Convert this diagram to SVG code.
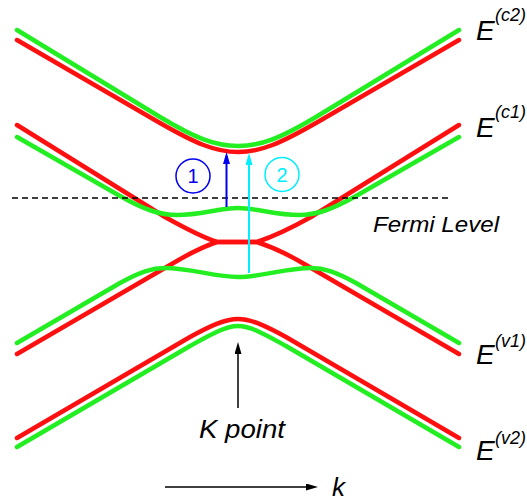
<svg xmlns="http://www.w3.org/2000/svg" width="527" height="502" viewBox="0 0 527 502">
<style>
.band{fill:none;stroke-width:4.5;stroke-linecap:round;stroke-linejoin:round}
.r{stroke:#ff1010}
.g{stroke:#22ee22}
.lbl{font-family:"Liberation Sans",Arial,sans-serif;font-style:italic;fill:#000}
.num{font-family:"Liberation Sans",Arial,sans-serif}
</style>
<defs>
<marker id="hk" viewBox="0 0 12 7" refX="8" refY="3.5" markerWidth="12" markerHeight="7" markerUnits="userSpaceOnUse" orient="auto"><path d="M0,0 L12,3.5 L0,7 z" fill="#000"/></marker>
<marker id="hb" viewBox="0 0 12 7" refX="8" refY="3.5" markerWidth="12" markerHeight="7" markerUnits="userSpaceOnUse" orient="auto"><path d="M0,0 L12,3.5 L0,7 z" fill="#0000ee"/></marker>
<marker id="hc" viewBox="0 0 12 7" refX="8" refY="3.5" markerWidth="12" markerHeight="7" markerUnits="userSpaceOnUse" orient="auto"><path d="M0,0 L12,3.5 L0,7 z" fill="#00eeff"/></marker>
</defs>
<rect width="527" height="502" fill="#fff"/>
<g id="band-c2">
<path class="band r" d="M17,40 L160,123 C195,143 215,152 238,152 C261,152 281,143 316,123 L459,40"/>
<path class="band g" d="M17,30 L160,117 C195,138 215,146 238,146 C261,146 281,138 316,117 L459,30"/>
</g>
<g id="band-c1-v1">
<path class="band r" d="M17,125 L165,217 C190,231 205,238 217,242 L257,242 C269,238 286,231 311,217 L459,125"/>
<path class="band r" d="M17,354 L170,265 C190,253 205,246 217,242 L257,242 C269,246 286,253 306,265 L459,354"/>
<path class="band g" d="M17,137 L120,196 C145,210 160,215 177,215 C200,215 220,208 238,208 C256,208 276,215 299,215 C316,215 331,210 356,196 L459,137"/>
<path class="band g" d="M17,343 L120,283 C140,272 152,268 165,268 C190,268 215,277 238,277 C261,277 286,268 311,268 C324,268 336,272 356,283 L459,343"/>
</g>
<g id="band-v2">
<path class="band r" d="M17,438 L190,337 C210,326 225,319 238,319 C251,319 266,326 286,337 L459,438"/>
<path class="band g" d="M17,447 L190,346 C210,335 225,326 238,326 C251,326 266,335 286,346 L459,447"/>
</g>
<g id="fermi">
<line x1="12" y1="198" x2="451" y2="198" stroke="#000" stroke-width="1.5" stroke-dasharray="6,4"/>
<text class="lbl" x="373" y="232" font-size="22" textLength="126" lengthAdjust="spacingAndGlyphs">Fermi Level</text>
</g>
<g id="connectors">
<line x1="226.5" y1="207" x2="226.5" y2="156" stroke="#0000ee" stroke-width="2" marker-end="url(#hb)"/>
<line x1="249" y1="273" x2="249" y2="157" stroke="#00eeff" stroke-width="2" marker-end="url(#hc)"/>
<line x1="238" y1="408" x2="238" y2="346" stroke="#000" stroke-width="1.5" marker-end="url(#hk)"/>
<line x1="165" y1="487" x2="314" y2="487" stroke="#000" stroke-width="1.5" marker-end="url(#hk)"/>
</g>
<g id="label-1">
<circle cx="193" cy="176" r="17" fill="none" stroke="#0000ee" stroke-width="1.5"/>
<text class="num" x="193" y="183" font-size="20" fill="#0000ee" text-anchor="middle">1</text>
</g>
<g id="label-2">
<circle cx="282" cy="174.5" r="17" fill="none" stroke="#00eeff" stroke-width="1.5"/>
<text class="num" x="282" y="182" font-size="20" fill="#00eeff" text-anchor="middle">2</text>
</g>
<g id="label-kpoint"><text class="lbl" x="199" y="438" font-size="26" textLength="86" lengthAdjust="spacingAndGlyphs">K point</text></g>
<g id="label-k"><text class="lbl" x="332" y="496" font-size="26">k</text></g>
<g id="label-ec2"><text class="lbl" x="476" y="40" font-size="28">E</text><text class="lbl" x="495" y="21" font-size="18">(c2)</text></g>
<g id="label-ec1"><text class="lbl" x="476" y="137" font-size="28">E</text><text class="lbl" x="495" y="118" font-size="18">(c1)</text></g>
<g id="label-ev1"><text class="lbl" x="476" y="364" font-size="28">E</text><text class="lbl" x="495" y="347" font-size="18">(v1)</text></g>
<g id="label-ev2"><text class="lbl" x="476" y="460" font-size="28">E</text><text class="lbl" x="495" y="444" font-size="18">(v2)</text></g>
</svg>
